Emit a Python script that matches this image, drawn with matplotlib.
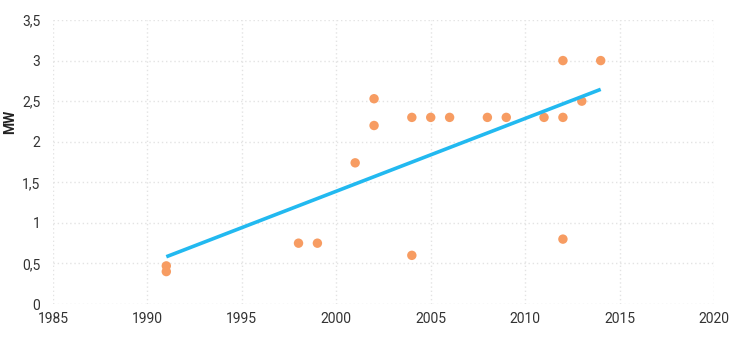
import numpy as np
import matplotlib
matplotlib.use("Agg")
import matplotlib.pyplot as plt
from matplotlib.ticker import FuncFormatter

# installation year vs. rated power
years = [1991, 1991, 1998, 1999, 2001, 2002, 2002, 2004, 2004, 2005,
         2006, 2008, 2009, 2011, 2012, 2012, 2012, 2013, 2014]
power_mw = [0.47, 0.40, 0.75, 0.75, 1.74, 2.53, 2.20, 2.30, 0.60, 2.30,
            2.30, 2.30, 2.30, 2.30, 3.00, 2.30, 0.80, 2.50, 3.00]

x_ticks = [1985, 1990, 1995, 2000, 2005, 2010, 2015, 2020]
y_ticks = [0, 0.5, 1, 1.5, 2, 2.5, 3, 3.5]

plt.rcParams["font.family"] = ["Roboto", "DejaVu Sans"]

fig = plt.figure(figsize=(7.3, 3.42), dpi=100)
ax = fig.add_axes([0.0726, 0.111, 0.9055, 0.8305])

ax.scatter(years, power_mw, s=46, color="#f79c62", edgecolors="none", zorder=3)

# linear trend
coef = np.polyfit(years, power_mw, 1)
xs = np.array([min(years), max(years)])
ax.plot(xs, np.polyval(coef, xs), color="#22b9f0", linewidth=2.6, zorder=4,
        solid_capstyle="butt")

ax.set_xlim(1985, 2020)
ax.set_ylim(0, 3.5)
ax.set_xticks(x_ticks)
ax.set_yticks(y_ticks)
ax.yaxis.set_major_formatter(FuncFormatter(lambda v, p: f"{v:g}".replace(".", ",")))

ax.grid(True, color="#e3e3e3", linestyle=(0, (1, 2)), linewidth=1)
ax.set_axisbelow(True)
for s in ax.spines.values():
    s.set_visible(False)
ax.tick_params(axis="y", length=0, labelsize=10, colors="#333333", pad=9)
ax.tick_params(axis="x", length=0, labelsize=10, colors="#333333", pad=6)
ax.set_ylabel("MW", fontsize=10, fontweight="bold", color="#222222")
ax.yaxis.set_label_coords(-0.055, 0.64)

fig.savefig("out.png", dpi=100)
